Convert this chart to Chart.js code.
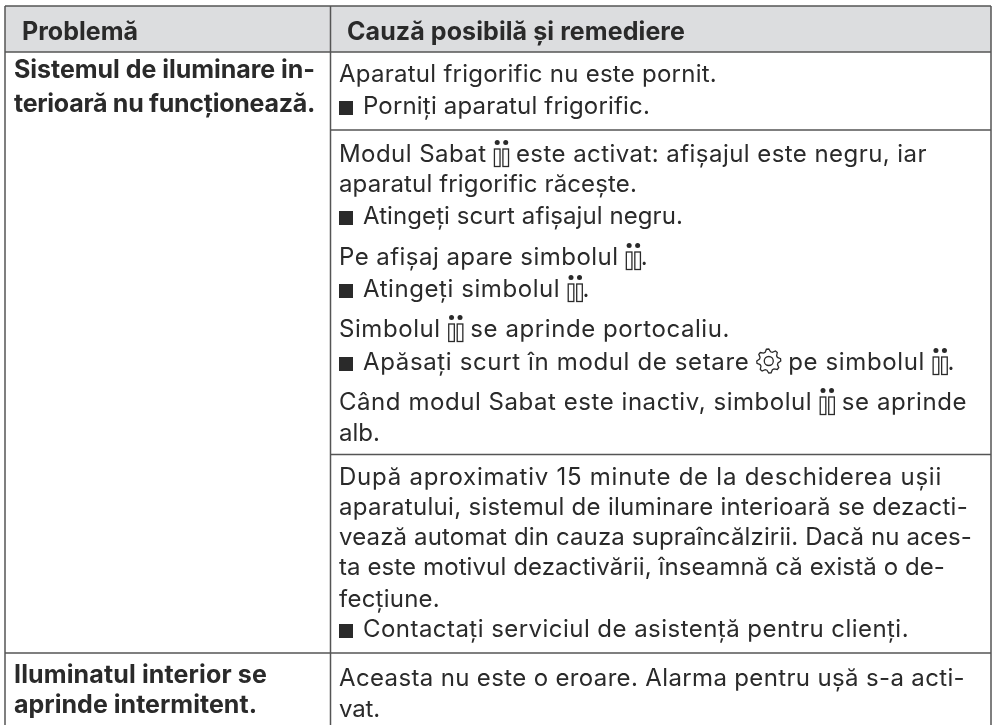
<!DOCTYPE html>
<html lang="ro">
<head>
<meta charset="utf-8">
<title>Problemă</title>
<script src="https://cdn.jsdelivr.net/npm/chart.js@4/dist/chart.umd.js"></script>
<style>
    html, body { margin: 0; padding: 0; background: #ffffff; }
    canvas { display: block; }
</style>
</head>
<body>
<canvas id="tableChart" width="994" height="725"></canvas>
<script>
// Table text. {c} = candle symbol, {g} = settings symbol, {s} = square bullet
const headerLabels = ['Problemă', 'Cauză posibilă şi remediere'];
const problemLines = [
    'Sistemul de iluminare in-',
    'terioară nu funcţionează.',
    'Iluminatul interior se',
    'aprinde intermitent.'
];
const causeLines = [
    'Aparatul frigorific nu este pornit.',
    '{s}Porniți aparatul frigorific.',
    'Modul Sabat {c} este activat: afișajul este negru, iar',
    'aparatul frigorific răcește.',
    '{s}Atingeți scurt afișajul negru.',
    'Pe afișaj apare simbolul {c}.',
    '{s}Atingeți simbolul {c}.',
    'Simbolul {c} se aprinde portocaliu.',
    '{s}Apăsați scurt în modul de setare {g} pe simbolul {c}.',
    'Când modul Sabat este inactiv, simbolul {c} se aprinde',
    'alb.',
    'După aproximativ 15 minute de la deschiderea ușii',
    'aparatului, sistemul de iluminare interioară se dezacti-',
    'vează automat din cauza supraîncălzirii. Dacă nu aces-',
    'ta este motivul dezactivării, înseamnă că există o de-',
    'fecțiune.',
    '{s}Contactați serviciul de asistență pentru clienți.',
    'Aceasta nu este o eroare. Alarma pentru ușă s-a acti-',
    'vat.'
];

// Table geometry on the 994 x 725 axes
const columnEdges = [5, 330.5, 991];
const headerEdges = [6, 52];
const causeRuleRows = [130, 454.5];
const problemRuleRows = [653];
const tableBottom = 725;
const headerColumns = [22, 347];
const headerBaselines = [40, 40];
const headerEnds = [138, 685];
const problemTextX = 14;
const problemBaselines = [78, 112, 683, 713];
const problemEnds = [315, 315, 267, 257];
const causeTextX = 339;
const causeBaselines = [82, 114, 162, 192, 224, 265, 297, 337, 370, 410, 441, 485, 515, 545, 575, 607, 637, 686, 717];
const causeEnds = [717, 650, 927, 637, 683, 648, 590, 730, 955, 967, 380, 942, 968, 972, 945, 440, 909, 965, 380];

const ruleColor = '#555555';
const headerFill = '#dcdddf';
const inkColor = '#2a2a2a';
const bodyFont = '400 24px Inter, sans-serif';
const boldFont = '700 25px Inter, sans-serif';

function ruleDataset(x0, y0, x1, y1) {
    return {
        type: 'line',
        data: [{ x: x0, y: y0 }, { x: x1, y: y1 }],
        borderColor: ruleColor,
        borderWidth: 1.5,
        pointRadius: 0,
        fill: false,
        order: 1
    };
}

function textDataset(labels, xs, ys, ends, font) {
    return {
        type: 'scatter',
        data: labels.map((label, i) => ({ x: xs[i], y: ys[i], end: ends[i], label: label })),
        pointRadius: 0,
        textFont: font,
        order: 0
    };
}

function buildDatasets() {
    const left = columnEdges[0];
    const mid = columnEdges[1];
    const right = columnEdges[2];
    const datasets = [];

    // Header band
    datasets.push({
        type: 'line',
        data: [{ x: left, y: headerEdges[1] }, { x: right, y: headerEdges[1] }],
        borderWidth: 0,
        pointRadius: 0,
        backgroundColor: headerFill,
        fill: { value: headerEdges[0] },
        order: 2
    });

    headerEdges.forEach(y => datasets.push(ruleDataset(left, y, right, y)));
    columnEdges.forEach(x => datasets.push(ruleDataset(x, headerEdges[0], x, tableBottom)));
    causeRuleRows.forEach(y => datasets.push(ruleDataset(mid, y, right, y)));
    problemRuleRows.forEach(y => datasets.push(ruleDataset(left, y, right, y)));

    datasets.push(textDataset(headerLabels, headerColumns, headerBaselines, headerEnds, boldFont));
    datasets.push(textDataset(problemLines, problemLines.map(() => problemTextX), problemBaselines, problemEnds, boldFont));
    datasets.push(textDataset(causeLines, causeLines.map(() => causeTextX), causeBaselines, causeEnds, bodyFont));
    return datasets;
}

function drawCandles(ctx, x, y) {
    ctx.save();
    ctx.letterSpacing = '0px';
    ctx.strokeStyle = inkColor;
    ctx.fillStyle = inkColor;
    ctx.lineWidth = 1.3;
    [0, 8.5].forEach(dx => {
        ctx.strokeRect(x + dx + 0.7, y - 13, 5.6, 17.5);
        ctx.beginPath();
        ctx.arc(x + dx + 3.5, y - 19.5, 2.5, 0, Math.PI * 2);
        ctx.fill();
    });
    ctx.restore();
}

function drawGear(ctx, x, y) {
    const cx = x + 12;
    const cy = y - 9;
    const teeth = 8;
    ctx.save();
    ctx.strokeStyle = inkColor;
    ctx.lineWidth = 1.3;
    ctx.beginPath();
    for (let i = 0; i < teeth * 4; i++) {
        const a = (i / (teeth * 4)) * Math.PI * 2 - Math.PI / 2 - Math.PI / 16;
        const r = (i % 4 === 0 || i % 4 === 1) ? 12 : 9.4;
        const px = cx + Math.cos(a) * r;
        const py = cy + Math.sin(a) * r;
        if (i === 0) ctx.moveTo(px, py); else ctx.lineTo(px, py);
    }
    ctx.closePath();
    ctx.stroke();
    ctx.beginPath();
    ctx.arc(cx, cy, 4.5, 0, Math.PI * 2);
    ctx.stroke();
    ctx.restore();
}

const symbolWidths = { '{c}': 15, '{g}': 24, '{s}': 24 };

// Spreads the letters so the line stops where it does in the source table
function fitSpacing(ctx, parts, x, endX) {
    let natural = 0;
    let letters = 0;
    ctx.letterSpacing = '0px';
    parts.forEach(part => {
        if (symbolWidths[part]) {
            natural += symbolWidths[part];
        } else if (part) {
            natural += ctx.measureText(part).width;
            letters += part.length;
        }
    });
    return (endX - x - natural) / letters;
}

function drawLine(ctx, text, x, y, endX) {
    const parts = text.split(/(\{[csg]\})/);
    const spacing = fitSpacing(ctx, parts, x, endX);
    let cursor = x;
    ctx.letterSpacing = spacing + 'px';
    parts.forEach(part => {
        if (part === '{c}') {
            drawCandles(ctx, cursor, y);
        } else if (part === '{g}') {
            drawGear(ctx, cursor, y);
        } else if (part === '{s}') {
            ctx.fillRect(cursor, y - 13, 14, 14);
        } else if (part) {
            ctx.fillText(part, cursor, y);
            cursor += ctx.measureText(part).width;
            return;
        }
        cursor += symbolWidths[part] || 0;
    });
    ctx.letterSpacing = '0px';
}

// Writes the text of the scatter datasets at their scale positions
const tableTextPlugin = {
    id: 'tableText',
    afterDatasetsDraw(chart) {
        const ctx = chart.ctx;
        const xScale = chart.scales.x;
        const yScale = chart.scales.y;
        ctx.save();
        ctx.fillStyle = inkColor;
        ctx.textBaseline = 'alphabetic';
        chart.data.datasets.forEach(dataset => {
            if (!dataset.textFont) return;
            ctx.font = dataset.textFont;
            dataset.data.forEach(item => {
                drawLine(ctx, item.label, xScale.getPixelForValue(item.x), yScale.getPixelForValue(item.y), xScale.getPixelForValue(item.end));
            });
        });
        ctx.restore();
    }
};

new Chart(document.getElementById('tableChart'), {
    type: 'scatter',
    data: { datasets: buildDatasets() },
    options: {
        responsive: false,
        animation: false,
        layout: { padding: 0 },
        plugins: {
            legend: { display: false },
            tooltip: { enabled: false }
        },
        scales: {
            x: { type: 'linear', min: 0, max: 994, display: false },
            y: { type: 'linear', min: 0, max: 725, reverse: true, display: false }
        }
    },
    plugins: [tableTextPlugin]
});
</script>
</body>
</html>
